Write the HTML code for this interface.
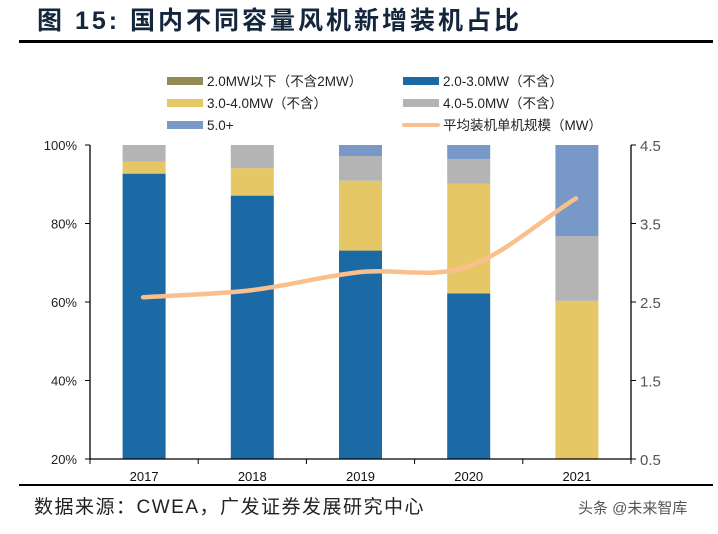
<!DOCTYPE html>
<html><head><meta charset="utf-8"><style>
body{margin:0;background:#fff;width:718px;height:534px;overflow:hidden;font-family:"Liberation Sans","Noto Sans CJK SC",sans-serif;}
svg{display:block}
</style></head><body>
<svg id="c" width="718" height="534">
<text x="37" y="29" font-size="25" font-weight="bold" fill="#14263c" letter-spacing="3" style="font-family:'Liberation Sans','Noto Sans CJK SC',sans-serif">图 15:  国内不同容量风机新增装机占比</text>
<rect x="19" y="40" width="694" height="3" fill="#000"/>
<rect x="19" y="484" width="694" height="2" fill="#000"/>
<text x="34" y="513" font-size="19" fill="#222" letter-spacing="1.5">数据来源：CWEA，广发证券发展研究中心</text>
<text x="578" y="513" font-size="15" fill="#555">头条 @未来智库</text>
<g id="legend"></g>
<g id="plot"></g>
</svg>
<script>
const years=["2017","2018","2019","2020","2021"];
const below2=[0,0,0,0,0];
const s2to3=[92.7,87.1,73.1,62.2,0.5];
const s3to4=[3.0,7.0,17.8,27.9,59.8];
const s4to5=[4.3,5.9,6.3,6.3,16.5];
const s5plus=[0,0,2.8,3.6,23.2];
const avgSize=[2.56,2.65,2.88,2.95,3.82];
const leftTicks=["20%","40%","60%","80%","100%"];
const leftTickVals=[20,40,60,80,100];
const rightTicks=["0.5","1.5","2.5","3.5","4.5"];
const rightTickVals=[0.5,1.5,2.5,3.5,4.5];
const seriesNames=["2.0MW以下（不含2MW）","2.0-3.0MW（不含）","3.0-4.0MW（不含）","4.0-5.0MW（不含）","5.0+","平均装机单机规模（MW）"];
const colors=["#948a54","#1b6aa5","#e5c865","#b4b4b4","#7899c8","#f9c08e"];

const NS="http://www.w3.org/2000/svg";
const L=90,R=631,T=145,B=459;
const yL=v=>B-(v-20)/80*(B-T);
const yR=v=>B-(v-0.5)/4*(B-T);
const band=(R-L)/years.length;
const xC=i=>L+band*(i+0.5);
const bw=43;
const plot=document.getElementById('plot');
function mk(tag,attrs,parent){const e=document.createElementNS(NS,tag);for(const k in attrs)e.setAttribute(k,attrs[k]);(parent||plot).appendChild(e);return e;}

const series=[below2,s2to3,s3to4,s4to5,s5plus];
const bnames=['bar-below-2mw','bar-2-3mw','bar-3-4mw','bar-4-5mw','bar-5plus'];
years.forEach((y,i)=>{
  let cum=0;
  series.forEach((s,k)=>{
    const v0=Math.max(cum,20),v1=Math.min(cum+s[i],100);
    cum+=s[i];
    if(v1<=v0)return;
    const r=mk('rect',{x:xC(i)-bw/2,y:yL(v1),width:bw,height:yL(v0)-yL(v1),fill:colors[k]});
    
    
  });
});
const ax=mk('path',{d:`M${L},${T}V${B}H${R}V${T}`,stroke:'#000','stroke-width':1.3,fill:'none'});


leftTickVals.forEach((v,i)=>{
  mk('line',{x1:L-5,x2:L,y1:yL(v),y2:yL(v),stroke:'#000'});
  const t=mk('text',{x:L-13,y:yL(v)+5,'text-anchor':'end','font-size':13,fill:'#222'});
  t.textContent=leftTicks[i];
  
  
});
rightTickVals.forEach((v,i)=>{
  mk('line',{x1:R,x2:R+5,y1:yR(v),y2:yR(v),stroke:'#000'});
  const t=mk('text',{x:R+9,y:yR(v)+6,'font-size':15,fill:'#555'});
  t.textContent=rightTicks[i];
  
  
});
for(let i=0;i<=years.length;i++)mk('line',{x1:L+band*i,x2:L+band*i,y1:B,y2:B+5,stroke:'#000'});
years.forEach((y,i)=>{
  const t=mk('text',{x:xC(i),y:B+22,'text-anchor':'middle','font-size':13,fill:'#111'});
  t.textContent=y;
  
  
});
// monotone cubic smooth line
const pts=avgSize.map((v,i)=>[xC(i)-1,yR(v)]);
const n=pts.length,dx=[],sl=[],m=[];
for(let i=0;i<n-1;i++){dx[i]=pts[i+1][0]-pts[i][0];sl[i]=(pts[i+1][1]-pts[i][1])/dx[i];}
m[0]=sl[0];m[n-1]=sl[n-2];
for(let i=1;i<n-1;i++){m[i]=(sl[i-1]*sl[i]<=0)?0:(sl[i-1]+sl[i])/2;}
let d=`M${pts[0][0]},${pts[0][1]}`;
for(let i=0;i<n-1;i++){
  const h=dx[i]/3;
  d+=` C${pts[i][0]+h},${pts[i][1]+m[i]*h} ${pts[i+1][0]-h},${pts[i+1][1]-m[i+1]*h} ${pts[i+1][0]},${pts[i+1][1]}`;
}
const ln=mk('path',{d,stroke:colors[5],'stroke-width':4.5,fill:'none','stroke-linecap':'round'});


const lg=document.getElementById('legend');
const lpos=[[167,81],[403,81],[167,103],[403,103],[167,125],[403,125]];
seriesNames.forEach((nm,k)=>{
  const [x,y]=lpos[k];
  const g=mk('g',{},lg);
  
  
  if(k===5) mk('line',{x1:x+1,x2:x+35,y1:y,y2:y,stroke:colors[k],'stroke-width':4,'stroke-linecap':'round'},g);
  else mk('rect',{x:x,y:y-4,width:36,height:8,fill:colors[k]},g);
  const t=mk('text',{x:x+40,y:y+5,'font-size':13.5,fill:'#222'},g);
  t.textContent=nm;
});
</script>
</body></html>
